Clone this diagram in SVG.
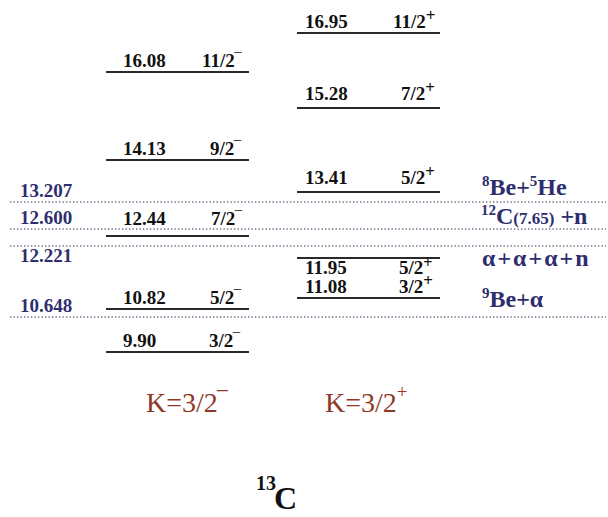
<svg xmlns="http://www.w3.org/2000/svg" width="608" height="517" viewBox="0 0 608 517">
<style>
.lv{stroke:#2a2a2a;stroke-width:2}
.dot{stroke:#6a6a88;stroke-width:1.3;stroke-dasharray:1.3 2.2}
.t{font-family:"Liberation Serif","Times New Roman",serif;font-weight:bold;font-size:19px;fill:#111}
.b{font-family:"Liberation Serif","Times New Roman",serif;font-weight:bold;font-size:19px;fill:#2e2e6e}
.ch{font-family:"Liberation Serif","Times New Roman",serif;font-weight:bold;font-size:24px;fill:#2e2e6e}
.k{font-family:"Liberation Serif","Times New Roman",serif;font-size:28px;fill:#8e3a26}
.sup{font-size:15px}
.big{font-size:32px}
</style>
<rect width="608" height="517" fill="#fff"/>
<g id="thresholds">
<line class="dot" x1="10" y1="202" x2="606" y2="202"/>
<line class="dot" x1="10" y1="229" x2="606" y2="229"/>
<line class="dot" x1="10" y1="246" x2="606" y2="246"/>
<line class="dot" x1="10" y1="317" x2="606" y2="317"/>
<text class="b" x="20" y="197">13.207</text>
<text class="b" x="20" y="224">12.600</text>
<text class="b" x="20" y="262">12.221</text>
<text class="b" x="20" y="312">10.648</text>
<text class="ch" x="482" y="195"><tspan class="sup" dy="-9">8</tspan><tspan dy="9">Be+</tspan><tspan class="sup" dy="-9">5</tspan><tspan dy="9">He</tspan></text>
<text class="ch" x="481" y="224"><tspan class="sup" dy="-9">12</tspan><tspan dy="9">C</tspan><tspan style="font-size:17px">(7.65)</tspan> +n</text>
<text class="ch" x="482" y="266" letter-spacing="2">α+α+α+n</text>
<text class="ch" x="482" y="307"><tspan class="sup" dy="-9">9</tspan><tspan dy="9">Be+α</tspan></text>
</g>
<g id="band-minus">
<g id="l1608"><line class="lv" x1="106" y1="72" x2="249" y2="72"/><text class="t" x="123" y="67">16.08</text><text class="t" x="202" y="67">11/2‾</text></g>
<g id="l1413"><line class="lv" x1="106" y1="160" x2="249" y2="160"/><text class="t" x="123" y="155">14.13</text><text class="t" x="210" y="155">9/2‾</text></g>
<g id="l1244"><line class="lv" x1="106" y1="236" x2="249" y2="236"/><text class="t" x="123" y="225">12.44</text><text class="t" x="211" y="225">7/2‾</text></g>
<g id="l1082"><line class="lv" x1="106" y1="309" x2="249" y2="309"/><text class="t" x="123" y="304">10.82</text><text class="t" x="210" y="304">5/2‾</text></g>
<g id="l990"><line class="lv" x1="106" y1="352" x2="249" y2="352"/><text class="t" x="123" y="347">9.90</text><text class="t" x="209" y="347">3/2‾</text></g>
<text class="k" x="146" y="412">K=3/2‾</text>
</g>
<g id="band-plus">
<g id="l1695"><line class="lv" x1="297" y1="33" x2="440" y2="33"/><text class="t" x="305" y="28">16.95</text><text class="t" x="393" y="28">11/2<tspan style="font-size:17px" dy="-7">+</tspan></text></g>
<g id="l1528"><line class="lv" x1="297" y1="108" x2="440" y2="108"/><text class="t" x="305" y="100">15.28</text><text class="t" x="401" y="100">7/2<tspan style="font-size:17px" dy="-7">+</tspan></text></g>
<g id="l1341"><line class="lv" x1="297" y1="192" x2="440" y2="192"/><text class="t" x="305" y="184">13.41</text><text class="t" x="401" y="184">5/2<tspan style="font-size:17px" dy="-7">+</tspan></text></g>
<g id="l1195"><line class="lv" x1="297" y1="258" x2="440" y2="258"/><text class="t" x="305" y="274">11.95</text><text class="t" x="399" y="274">5/2<tspan style="font-size:16px" dy="-6">+</tspan></text></g>
<g id="l1108"><line class="lv" x1="297" y1="298" x2="440" y2="298"/><text class="t" x="305" y="293">11.08</text><text class="t" x="399" y="293">3/2<tspan style="font-size:17px" dy="-7">+</tspan></text></g>
<text class="k" x="325" y="412">K=3/2<tspan style="font-size:19px" dy="-14">+</tspan></text>
</g>
<g id="nucleus">
<text class="t" x="256" y="490" style="font-size:20px">13</text>
<text class="t big" x="274" y="509">C</text>
</g>
</svg>
